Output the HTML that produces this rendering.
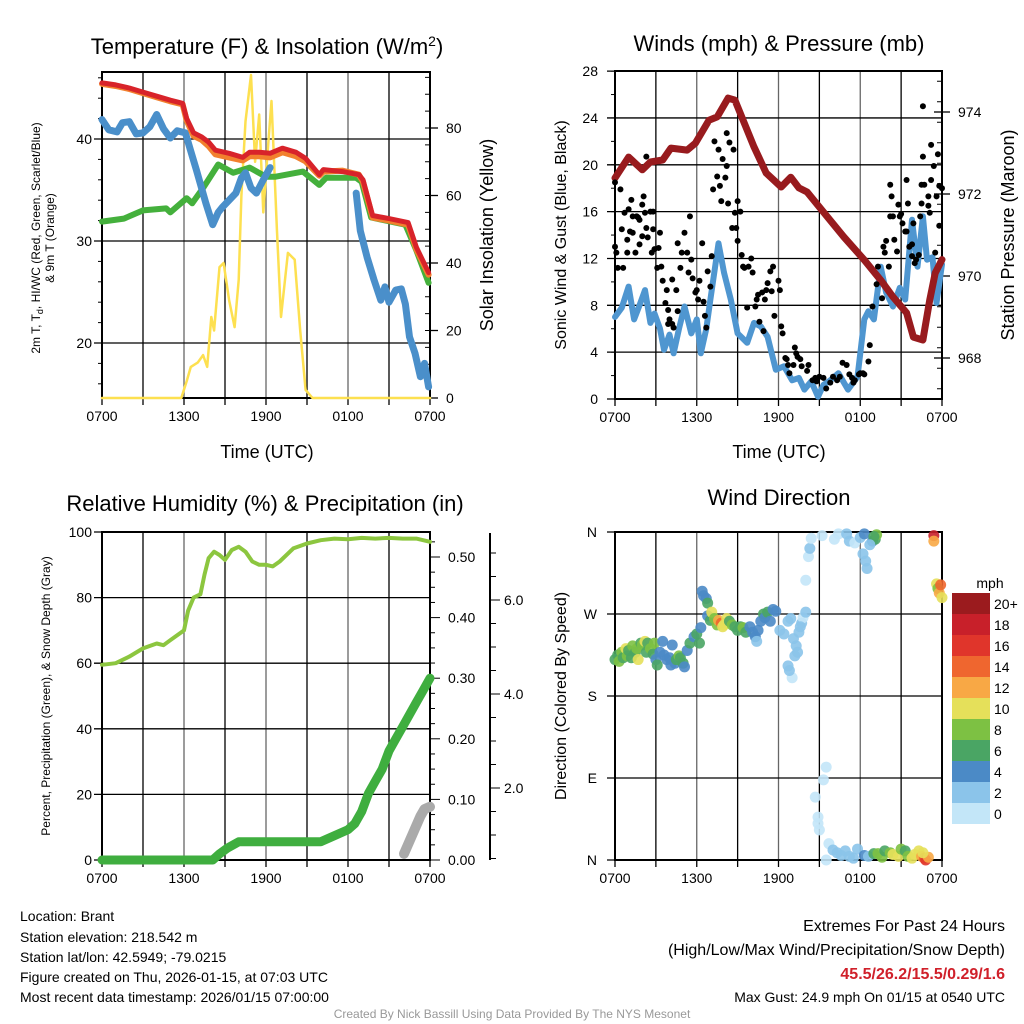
<!DOCTYPE html>
<html><head><meta charset="utf-8">
<style>
html,body{margin:0;padding:0;background:#fff;}
svg{display:block;font-family:"Liberation Sans",Arial,sans-serif;}
</style></head>
<body>
<svg id="c" width="1024" height="1024" viewBox="0 0 1024 1024" xmlns="http://www.w3.org/2000/svg">
<text x="267" y="54" font-size="22" text-anchor="middle">Temperature (F) &amp; Insolation (W/m<tspan dy="-8" font-size="14">2</tspan><tspan dy="8">)</tspan></text>
<text x="779" y="51" font-size="22" text-anchor="middle">Winds (mph) &amp; Pressure (mb)</text>
<text x="265" y="511" font-size="22" text-anchor="middle">Relative Humidity (%) &amp; Precipitation (in)</text>
<text x="779" y="505" font-size="22" text-anchor="middle">Wind Direction</text>
<text x="267" y="458" font-size="18" text-anchor="middle">Time (UTC)</text>
<text x="779" y="458" font-size="18" text-anchor="middle">Time (UTC)</text>
<text transform="translate(40,238) rotate(-90)" font-size="12" text-anchor="middle">2m T, T<tspan dy="3" font-size="9">d</tspan><tspan dy="-3">, HI/WC (Red, Green, Scarlet/Blue)</tspan></text>
<text transform="translate(54,238) rotate(-90)" font-size="12" text-anchor="middle">&amp; 9m T (Orange)</text>
<text transform="translate(493,235) rotate(-90)" font-size="18" text-anchor="middle">Solar Insolation (Yellow)</text>
<text transform="translate(566,235) rotate(-90)" font-size="16" text-anchor="middle">Sonic Wind &amp; Gust (Blue, Black)</text>
<text transform="translate(1014,235) rotate(-90)" font-size="18" text-anchor="middle">Station Pressure (Maroon)</text>
<text transform="translate(50,696) rotate(-90)" font-size="12" text-anchor="middle">Percent, Precipitation (Green), &amp; Snow Depth (Gray)</text>
<text transform="translate(566,696) rotate(-90)" font-size="16" text-anchor="middle">Direction (Colored By Speed)</text>
<text x="990" y="588" font-size="14" text-anchor="middle">mph</text>
<g font-size="14">
<text x="20" y="921">Location: Brant</text>
<text x="20" y="942">Station elevation: 218.542 m</text>
<text x="20" y="962">Station lat/lon: 42.5949; -79.0215</text>
<text x="20" y="982">Figure created on Thu, 2026-01-15, at 07:03 UTC</text>
<text x="20" y="1002">Most recent data timestamp: 2026/01/15 07:00:00</text>
</g>
<g text-anchor="end">
<text x="1005" y="931" font-size="16">Extremes For Past 24 Hours</text>
<text x="1005" y="955" font-size="16">(High/Low/Max Wind/Precipitation/Snow Depth)</text>
<text x="1005" y="979" font-size="16" font-weight="bold" fill="#d0202a">45.5/26.2/15.5/0.29/1.6</text>
<text x="1005" y="1002" font-size="14">Max Gust: 24.9 mph On 01/15 at 0540 UTC</text>
</g>
<text x="512" y="1018" font-size="12" fill="#999" text-anchor="middle">Created By Nick Bassill Using Data Provided By The NYS Mesonet</text>
</svg>
<script>
// ---------- Temperature panel data ----------
const redH = [0,1,2,3,4,5,5.9,6.2,6.7,7.3,7.8,8.3,9.3,10.3,10.8,11.5,12.3,13.2,14.2,14.9,15.9,16.2,17.6,18.8,19.1,19.8,21.0,22.4,23.0,23.9];
const redT = [45.5,45.3,45.0,44.6,44.2,43.8,43.5,42.0,40.6,40.2,39.7,38.9,38.6,38.2,38.7,38.7,38.6,39.1,38.7,38.1,36.5,37.0,36.8,36.5,36.0,32.5,32.2,31.8,29.4,26.9];
const orgT = [45.4,45.2,44.9,44.5,44.1,43.7,43.4,41.8,40.3,39.9,39.3,38.5,38.2,37.9,38.3,38.3,38.2,38.7,38.3,37.8,36.4,36.8,36.9,36.5,35.8,32.3,32.0,31.6,29.2,26.7];
const grnH = [0,1.6,3,4.7,5,6.2,6.6,7.4,8.5,9.6,10.8,12.0,12.7,14.7,15.9,16.4,18.6,19.0,19.7,22.2,23.0,23.9];
const grnT = [31.9,32.2,33.0,33.2,32.8,34.2,33.7,35.2,37.5,36.7,37.2,36.3,36.3,36.8,35.5,36.2,36.2,35.8,32.3,31.6,29.1,25.9];
const bluH = [0,0.5,1.1,1.5,2,2.5,3,3.5,4,4.5,5,5.5,6.1,6.5,6.9,7.6,8.1,8.5,8.8,9.3,9.8,10.2,10.5,10.9,11.3,11.8,12.3];
const bluT = [41.9,40.9,40.7,41.6,41.7,40.5,40.6,41.2,42.4,41.0,40.1,40.8,40.6,38.8,37.0,33.7,31.6,32.8,33.3,34.0,34.7,36.2,36.7,35.2,34.7,36.0,37.2];
const blu2H = [18.6,18.9,19.4,19.9,20.4,20.7,21.0,21.5,21.9,22.2,22.5,22.9,23.3,23.6,23.9];
const blu2T = [34.7,31.0,28.4,26.2,24.2,25.5,24.0,25.2,25.3,23.8,20.6,19.0,16.7,18.0,15.7];
const solH = [0,5.8,6.2,6.5,7.0,7.4,7.7,8.0,8.2,8.6,8.9,9.3,9.7,10.0,10.2,10.5,10.9,11.2,11.5,11.8,12.1,12.4,12.8,13.1,13.6,14.1,14.5,14.9,15.4,24];
const solS = [0,0,5,9.2,10.5,12.7,9.2,24,20,38.8,40,29,21,35,60,82,95.7,70,84,55,72,88,50,24,43,41,20,2.4,0,0];
// ---------- Wind panel data ----------
const windH = [0,0.5,1.0,1.4,1.8,2.2,2.6,2.9,3.3,3.6,4.0,4.3,4.7,5.1,5.6,6.0,6.3,6.7,7.0,7.6,8.0,8.5,9.0,9.7,10.2,10.7,11.2,11.8,12.4,13.0,13.5,13.9,14.4,14.9,15.3,15.8,16.4,17.1,17.8,18.3,18.6,19.0,19.5,19.9,20.4,20.9,21.3,21.8,22.2,22.6,22.9,23.3,23.6,24];
const windV = [7.0,7.8,9.6,6.8,8.0,9.3,6.5,7.3,6.0,4.2,5.5,3.9,6.0,7.9,5.6,6.8,3.9,6.0,8.5,13.3,10.8,8.5,5.6,4.8,6.5,6.2,5.3,2.5,2.8,1.6,1.8,0.8,1.5,0.2,1.2,1.6,2.2,0.8,1.9,6.8,7.5,6.8,11.3,9.1,7.9,9.5,8.5,15.3,11.3,15.6,11.9,12.1,8.2,11.5];
const presH = [0,1.0,2.0,2.6,3.5,4.1,5.3,5.9,6.9,7.5,8.3,8.8,10.2,11.1,12.2,12.9,13.5,14.1,15.6,16.8,18.3,19.5,20.4,21.4,21.9,22.6,23.1,23.5,24];
const presP = [972.39,972.9,972.59,972.78,972.83,973.12,973.07,973.24,973.8,973.88,974.34,974.29,973.15,972.51,972.17,972.41,972.15,972.05,971.44,970.95,970.39,969.9,969.49,969.1,968.51,968.44,969.41,970.07,970.4];
const gustH = [0.0,0.4,0.0,0.1,0.2,0.6,0.5,0.7,0.9,0.9,1.0,1.1,1.2,1.3,1.3,1.5,1.6,1.7,1.8,1.8,2.0,2.0,2.1,2.2,2.3,2.3,2.4,2.6,2.7,2.8,2.8,2.9,3.1,3.2,3.3,3.4,3.5,3.7,3.8,3.9,4.0,4.2,3.9,4.3,4.2,4.5,4.6,4.6,4.8,4.9,5.1,5.3,5.4,5.5,5.6,5.7,5.9,6.0,6.1,6.2,6.4,6.5,6.6,6.7,6.8,7.0,7.1,7.2,7.3,7.5,7.6,7.7,7.8,7.9,8.1,8.2,8.3,8.2,8.4,8.6,8.7,8.8,8.9,9.0,9.2,9.0,9.3,9.4,9.5,9.7,9.8,10.0,10.1,10.3,10.4,10.5,10.6,10.8,10.9,11.0,11.1,11.2,11.4,11.5,11.6,11.7,12.0,12.1,12.2,12.3,12.5,12.6,12.7,12.8,13.1,13.2,13.3,13.4,13.6,13.7,14.1,14.2,14.5,14.7,14.8,15.0,15.3,15.5,15.8,16.0,16.3,16.5,16.7,17.0,17.2,17.4,17.5,17.6,17.9,18.0,18.2,18.3,18.6,18.7,18.9,19.2,19.3,19.6,19.7,19.8,19.9,20.1,20.2,20.3,20.2,20.4,20.5,20.7,20.8,20.9,21.0,21.1,21.3,21.4,21.4,21.5,21.6,21.8,21.9,21.8,22.0,22.1,22.3,22.4,22.5,22.5,22.6,22.7,23.0,23.0,23.1,23.2,23.2,23.4,23.5,23.6,23.7,23.8,23.8,24.0,22.6];
const gustV = [18.5,17.9,13.0,12.5,11.2,11.2,14.5,15.9,13.6,12.5,16.2,14.3,17.0,15.6,14.2,12.5,15.6,15.5,15.3,13.2,13.9,16.6,17.3,15.9,14.6,20.7,13.8,16.0,12.5,16.0,14.5,12.8,11.2,12.9,14.2,11.3,10.1,8.2,9.3,7.6,6.8,6.4,6.4,6.1,10.2,9.3,7.5,13.3,11.2,12.5,14.2,12.5,10.8,15.6,11.9,10.3,9.1,9.3,8.5,10.1,13.3,8.3,7.1,6.1,10.9,9.6,12.2,17.9,22.0,19.0,21.3,18.2,16.9,20.5,18.9,19.9,16.7,22.7,21.9,14.6,21.3,15.9,14.6,16.9,16.0,13.5,12.3,11.3,11.2,7.8,11.3,12.0,10.8,7.9,8.5,8.9,6.6,9.1,5.8,8.5,9.3,9.9,10.9,9.2,11.3,7.1,10.1,9.3,6.2,5.6,3.5,3.4,2.9,2.2,2.9,4.4,3.9,3.6,3.4,2.8,2.4,2.9,1.6,1.8,1.5,1.9,1.8,0.9,1.4,1.9,1.6,1.9,3.1,2.9,2.1,1.8,1.4,1.6,2.1,2.2,2.2,2.1,3.2,4.6,7.9,9.8,11.3,8.6,13.0,12.5,13.5,11.3,18.3,17.3,15.6,15.6,13.6,12.6,16.6,15.6,15.8,15.0,14.3,18.7,14.3,16.7,13.0,13.2,15.0,12.2,11.6,11.9,12.3,15.6,16.7,18.3,20.7,18.3,17.3,16.5,15.9,18.7,21.7,19.9,12.5,17.3,20.9,18.2,14.8,18.0,25.0,24.9];
// ---------- RH panel data ----------
const rhH = [0,1,2,3,4,4.5,5,6,6.3,6.7,7.2,7.5,7.8,8.2,8.6,9.0,9.5,10,10.5,11,11.5,12,12.5,13,14,15,16,17,18,19,20,21,22,23,24];
const rhV = [59.5,60,62,64.5,66,65.5,67,70,76,80,81,87,92,94,93,91.5,94.5,95.5,94,91,90,90,89.5,91,95,96.5,97.5,98,97.8,98.2,98,98.2,98,98,97];
const prH = [0,8.1,8.6,9.2,10,13,16,17,18,18.5,19,19.5,20,20.5,21,21.5,22,22.5,23,23.5,24];
const prV = [0,0,0.01,0.02,0.03,0.03,0.03,0.04,0.05,0.06,0.08,0.11,0.13,0.15,0.18,0.2,0.22,0.24,0.26,0.28,0.30];
const snH = [22.1,22.4,22.7,23.0,23.3,23.6,24];
const snV = [0.6,0.8,1.0,1.2,1.4,1.55,1.6];
// ---------- Wind direction data ----------
const dirH = [0,0.2,0.3,0.5,0.6,0.8,0.9,1.0,1.2,1.3,1.5,1.6,1.7,1.9,2.0,2.2,2.3,2.4,2.6,2.8,2.9,3.0,3.1,3.3,3.5,3.6,3.8,4.0,4.1,4.2,4.4,4.5,4.7,4.8,5.0,5.1,5.3,5.5,5.8,6.0,6.2,6.3,6.4,6.5,6.7,6.8,6.8,7.0,7.1,7.3,7.5,7.6,7.8,7.9,8.0,8.2,8.4,8.6,8.8,9.0,9.2,9.4,9.6,9.9,10.1,10.3,10.4,10.5,10.7,10.9,11.0,11.2,11.4,11.6,11.8,12.1,12.4,12.7,12.9,13.1,13.3,13.5,13.7,13.8,13.2,13.0,12.8,12.7,13.4,13.6,14.0,14.2,14.3,14.4,14.0,15.5,15.3,14.7,14.9,15.0,14.9,15.7,15.5,16.0,16.3,16.6,16.9,17.2,17.5,17.8,18.3,18.6,19.0,19.3,19.6,19.8,20.2,20.4,20.8,21.0,21.3,21.5,21.8,22.0,22.3,22.5,22.7,22.8,23.0,22.6,15.2,16.1,16.4,17.2,17.0,17.6,18.0,18.3,18.2,18.4,18.5,18.9,19.1,19.2,19.0,18.7,23.4,23.4,23.6,23.7,23.8,23.9,24.0];
const dirD = [220,225,218,228,222,232,224,230,222,235,228,232,220,238,236,240,228,238,232,226,238,220,214,228,240,225,220,222,214,236,216,220,224,222,216,212,230,238,245,248,238,255,295,290,287,282,268,263,272,265,258,263,260,256,258,265,262,258,256,252,256,255,250,256,250,245,240,252,262,270,266,272,262,275,273,252,248,262,265,243,235,250,260,266,224,200,208,213,228,256,307,333,342,353,272,102,88,69,47,33,40,18,0,11,8,5,10,4,2,12,5,4,7,7,3,10,8,6,4,12,10,4,2,6,10,4,2,0,3,8,356,352,358,350,358,348,354,358,336,328,320,350,352,357,355,346,356,350,303,298,293,302,288];
const dirS = [6,7,8,8,7,10,8,7,6,8,6,8,10,7,8,10,6,7,8,7,8,5,6,4,4,4,5,4,5,4,4,6,8,7,6,4,5,6,4,6,6,4,5,4,5,6,4,6,10,8,8,13,14,11,10,10,6,8,6,7,6,8,6,5,4,4,3,4,5,6,4,6,4,4,4,2,2,2,2,2,2,2,2,1,2,1,2,2,2,2,1,1,2,1,2,1,1,1,1,1,1,1,1,2,2,2,3,2,2,3,4,3,6,8,8,6,8,10,10,8,6,8,10,10,10,12,14,16,12,10,1,0,1,2,2,1,2,4,2,2,2,4,6,8,7,2,18,12,10,8,12,14,10];
const spdBins = [20,18,16,14,12,10,8,6,4,2,0];
const spdLabels = ["20+","18","16","14","12","10","8","6","4","2","0"];
const binColors = ["#9b1b1e","#c8202a","#e0352b","#ef662f","#f8a845","#e5e05a","#7dc143","#4aa564","#4b8ac6","#8bc4ea","#c3e6f8"];

const NS="http://www.w3.org/2000/svg", svg=document.getElementById('c');
function mk(tag,attrs,parent){const e=document.createElementNS(NS,tag);for(const k in attrs)e.setAttribute(k,attrs[k]);(parent||svg).appendChild(e);return e;}
function grp(name){const g=mk('g',{});return g;}
function poly(xs,ys,fx,fy,color,w,name,parent){
  const g=parent; let d='';
  for(let i=0;i<xs.length;i++){d+=(i?'L':'M')+fx(xs[i]).toFixed(1)+','+fy(ys[i]).toFixed(1);}
  const p=mk('path',{d:d,fill:'none',stroke:color,'stroke-width':w,'stroke-linejoin':'round','stroke-linecap':'round'},g);
  
  
  return p;
}
const tLabs=["0700","1300","1900","0100","0700"];
function frame(x0,x1,y0,y1,name,hgrid){
  const g=grp(name);
  for(let i=1;i<8;i++){const x=x0+(x1-x0)*i/8;mk('line',{x1:x,y1:y0,x2:x,y2:y1,stroke:(i%2?'#000':'#666'),'stroke-width':1.3},g);}
  hgrid.forEach(y=>{mk('line',{x1:x0-8,y1:y,x2:x1,y2:y,stroke:'#000','stroke-width':1.3},g);});
  mk('rect',{x:x0,y:y0,width:x1-x0,height:y1-y0,fill:'none',stroke:'#000','stroke-width':2},g);
  for(let i=0;i<=8;i++){const x=x0+(x1-x0)*i/8;mk('line',{x1:x,y1:y1,x2:x,y2:y1+7,stroke:'#000','stroke-width':1.3},g);}
  for(let i=0;i<5;i++){const t=mk('text',{x:x0+(x1-x0)*i/4,y:y1+23,'font-size':14,'text-anchor':'middle'},g);t.textContent=tLabs[i];
    
    }
  return g;
}
// ===== Panel 1 =====
const p1={x0:102,x1:430,y0:72,y1:398};
const x1f=h=>p1.x0+h*(p1.x1-p1.x0)/24, yT=t=>343-(t-20)*10.2, yS=s=>398-s*3.375;
const g1=frame(p1.x0,p1.x1,p1.y0,p1.y1,'temperature-panel',[yT(20),yT(30),yT(40)]);
[20,30,40].forEach(v=>{const t=mk('text',{x:92,y:yT(v)+5,'font-size':14,'text-anchor':'end'},g1);t.textContent=v;});
for(let v=16;v<=46;v+=2){mk('line',{x1:p1.x0-4,y1:yT(v),x2:p1.x0,y2:yT(v),stroke:'#000'},g1);}
[0,20,40,60,80].forEach(v=>{mk('line',{x1:p1.x1,y1:yS(v),x2:p1.x1+8,y2:yS(v),stroke:'#000','stroke-width':1.3},g1);const t=mk('text',{x:446,y:yS(v)+5,'font-size':14},g1);t.textContent=v;});
for(let v=0;v<=95;v+=5){mk('line',{x1:p1.x1-5,y1:yS(v),x2:p1.x1,y2:yS(v),stroke:'#000'},g1);}
poly(solH,solS,x1f,yS,'#fde050',2.5,'solar-line',g1);
poly(grnH,grnT,x1f,yT,'#44b03c',6,'dewpoint-line',g1);
poly(bluH,bluT,x1f,yT,'#4a8fca',7,'scarlet-blue-line',g1);
poly(blu2H,blu2T,x1f,yT,'#4a8fca',7,'scarlet-blue-line-2',g1);
poly(redH,orgT,x1f,yT,'#f2802e',6,'9m-temp-line',g1);
poly(redH,redT,x1f,yT,'#d8232a',5,'hiwc-line',g1);
// ===== Panel 2 =====
const p2={x0:615,x1:942,y0:71,y1:399};
const x2f=h=>p2.x0+h*(p2.x1-p2.x0)/24, yW=w=>399-w*11.71, yP=p=>358-(p-968)*41;
const wt=[0,4,8,12,16,20,24,28];
const g2=frame(p2.x0,p2.x1,p2.y0,p2.y1,'wind-panel',wt.map(yW));
wt.forEach(v=>{const t=mk('text',{x:598,y:yW(v)+5,'font-size':14,'text-anchor':'end'},g2);t.textContent=v;});
for(let v=0;v<=28;v+=2){mk('line',{x1:p2.x0-4,y1:yW(v),x2:p2.x0,y2:yW(v),stroke:'#000'},g2);}
[968,970,972,974].forEach(v=>{mk('line',{x1:p2.x1-8,y1:yP(v),x2:p2.x1+8,y2:yP(v),stroke:'#000','stroke-width':1.3},g2);const t=mk('text',{x:958,y:yP(v)+5,'font-size':14},g2);t.textContent=v;});
for(let v=967.25;v<=975;v+=0.5){if(yP(v)>p2.y0&&yP(v)<p2.y1)mk('line',{x1:p2.x1-5,y1:yP(v),x2:p2.x1,y2:yP(v),stroke:'#000'},g2);}
poly(windH,windV,x2f,yW,'#4f96d0',6,'wind-speed-line',g2);
poly(presH,presP,x2f,yP,'#981b1e',7,'pressure-line',g2);
for(let i=0;i<gustH.length;i++){
  const c=mk('circle',{cx:x2f(gustH[i]),cy:yW(gustV[i]),r:3,fill:'#000'},g2);
  
  
}
// ===== Panel 3 =====
const p3={x0:102,x1:430,y0:532,y1:860};
const x3f=h=>p3.x0+h*(p3.x1-p3.x0)/24, yR=r=>860-r*3.28, yPr=p=>860-p*606, ySn=s=>882-s*47;
const rt=[0,20,40,60,80,100];
const g3=frame(p3.x0,p3.x1,p3.y0,p3.y1,'humidity-panel',rt.map(yR));
rt.forEach(v=>{const t=mk('text',{x:92,y:yR(v)+5,'font-size':14,'text-anchor':'end'},g3);t.textContent=v;});
for(let v=0;v<=0.54;v+=0.025){mk('line',{x1:p3.x1,y1:yPr(v),x2:p3.x1+(Math.abs(v*10-Math.round(v*10))<0.01?10:5),y2:yPr(v),stroke:'#000'},g3);}
[0,0.1,0.2,0.3,0.4,0.5].forEach(v=>{const t=mk('text',{x:448,y:yPr(v)+5,'font-size':14},g3);t.textContent=v.toFixed(2);});
mk('line',{x1:490,y1:533,x2:490,y2:860,stroke:'#000','stroke-width':2},g3);
for(let v=0.5;v<=7;v+=0.5){if(ySn(v)>533&&ySn(v)<860)mk('line',{x1:490,y1:ySn(v),x2:(v%2===0?500:496),y2:ySn(v),stroke:'#000'},g3);}
[2,4,6].forEach(v=>{const t=mk('text',{x:504,y:ySn(v)+5,'font-size':14},g3);t.textContent=v.toFixed(1);});
poly(rhH,rhV,x3f,yR,'#8cc63f',4,'rh-line',g3);
poly(snH,snV,x3f,ySn,'#aaaaaa',10,'snow-depth-line',g3);
poly(prH,prV,x3f,yPr,'#3fae3f',9,'precip-line',g3);
// ===== Panel 4 =====
const p4={x0:615,x1:942,y0:532,y1:860};
const x4f=h=>p4.x0+h*(p4.x1-p4.x0)/24, yD=d=>860-d*(328/360);
const dt=[0,90,180,270,360], dl=["N","E","S","W","N"];
const g4=frame(p4.x0,p4.x1,p4.y0,p4.y1,'direction-panel',dt.map(yD));
dt.forEach((v,i)=>{const t=mk('text',{x:597,y:yD(v)+5,'font-size':14,'text-anchor':'end'},g4);t.textContent=dl[i];});
function colorFor(s){for(let i=0;i<spdBins.length;i++){if(s>=spdBins[i])return binColors[i];}return binColors[10];}
for(let i=0;i<dirH.length;i++){
  const c=mk('circle',{cx:x4f(dirH[i]),cy:yD(dirD[i]),r:5.5,fill:colorFor(dirS[i]),'fill-opacity':0.9},g4);
  
  
}
// colorbar
const gc=grp('speed-colorbar');
const cbTop=593, cbH=21;
for(let i=0;i<spdBins.length;i++){
  const r=mk('rect',{x:952,y:cbTop+i*cbH,width:38,height:cbH,fill:binColors[i]},gc);
  
  
  const t=mk('text',{x:994,y:cbTop+i*cbH+16,'font-size':14},gc);t.textContent=spdLabels[i];
}
</script>
</body></html>
